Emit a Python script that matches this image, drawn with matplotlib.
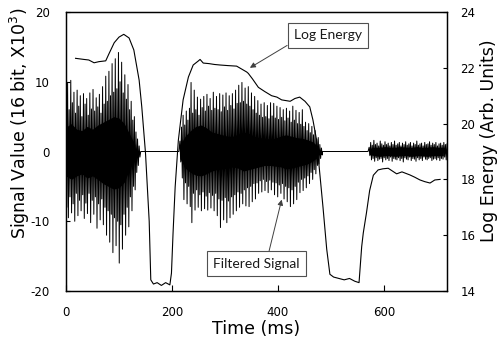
import numpy as np
import matplotlib
matplotlib.use("Agg")
import matplotlib.pyplot as plt

plt.rcParams['axes.unicode_minus'] = False

# signal peaks (X10^3), sampled every 3 ms: positive peak then negative peak
seg1_start = 0
seg1_hi = [7.5, 9.8, 6.0, 10.2, 7.0, 8.5, 5.5, 8.8, 6.5, 8.0,
           5.0, 8.3, 6.8, 7.6, 5.2, 8.4, 6.1, 8.9, 5.8, 7.7,
           6.4, 8.2, 5.5, 9.3, 6.8, 10.8, 7.2, 11.5, 8.0, 12.6,
           8.5, 13.3, 9.0, 14.2, 10.0, 12.8, 8.4, 11.0, 7.5, 9.6,
           6.0, 7.2, 4.5, 5.0, 2.8, 1.8, 0.8]
seg1_lo = [-8.0, -9.5, -6.5, -8.8, -7.5, -10.0, -6.0, -9.2, -7.0, -8.5,
           -6.2, -9.6, -7.4, -8.9, -6.0, -10.2, -7.0, -9.0, -6.5, -11.0,
           -7.5, -9.8, -6.8, -10.5, -8.0, -12.0, -8.5, -13.0, -9.0, -14.5,
           -9.5, -13.5, -10.0, -16.0, -10.5, -14.0, -9.0, -12.0, -8.0, -10.8,
           -6.5, -8.5, -5.0, -5.5, -3.0, -2.0, -0.8]

seg2_start = 215
seg2_hi = [1.5, 3.5, 5.2, 3.8, 5.8, 4.5, 6.2, 9.9, 5.5, 8.8,
           6.0, 7.8, 5.2, 7.5, 6.3, 7.9, 5.8, 8.2, 6.5, 7.6,
           5.9, 8.5, 6.2, 7.9, 6.0, 8.3, 5.7, 8.1, 6.4, 8.4,
           5.9, 8.0, 6.6, 8.3, 6.1, 8.8, 6.9, 9.5, 7.0, 9.9,
           7.2, 9.1, 6.8, 9.3, 6.5, 8.4, 6.0, 7.9, 5.5, 7.3,
           5.2, 6.8, 4.9, 7.0, 5.0, 6.6, 4.7, 7.0, 5.1, 6.9,
           4.8, 6.5, 4.6, 6.3, 4.9, 6.0, 4.4, 6.2, 4.8, 5.8,
           4.2, 6.5, 4.5, 5.9, 4.0, 5.6, 3.9, 6.0, 3.6, 4.2,
           3.0, 4.0, 2.7, 3.6, 2.4, 3.0, 1.8, 2.0, 1.0, 0.5]
seg2_lo = [-1.5, -3.8, -6.9, -4.5, -7.5, -5.0, -7.9, -10.2, -6.0, -8.4,
           -5.5, -8.0, -6.2, -8.5, -5.8, -8.2, -6.4, -8.4, -5.9, -8.1,
           -6.3, -8.5, -6.0, -9.2, -6.8, -10.9, -7.0, -9.8, -6.6, -10.2,
           -7.1, -9.5, -6.5, -9.0, -6.2, -8.5, -5.8, -8.0, -6.0, -7.5,
           -5.5, -7.8, -5.2, -7.9, -5.0, -7.2, -4.6, -6.8, -4.5, -6.0,
           -4.2, -5.8, -4.0, -5.6, -4.3, -5.9, -4.1, -5.5, -4.4, -6.2,
           -4.5, -6.5, -4.8, -6.0, -4.6, -6.8, -5.0, -7.2, -5.2, -7.9,
           -5.5, -7.5, -5.0, -6.9, -4.4, -5.9, -4.0, -5.6, -3.8, -5.2,
           -3.5, -4.6, -3.0, -4.0, -2.6, -3.2, -2.0, -1.8, -1.0, -0.5]

seg3_start = 572
seg3_hi = [0.6, 1.3, 0.9, 1.6, 1.0, 1.2, 0.8, 1.5, 1.1, 0.9,
           1.4, 1.0, 1.2, 0.8, 1.3, 1.0, 1.5, 0.9, 1.1, 1.3,
           0.8, 1.2, 1.0, 1.4, 0.9, 1.1, 1.3, 0.8, 1.2, 1.0,
           1.5, 0.9, 1.1, 1.2, 0.8, 1.3, 1.0, 1.1, 1.4, 0.9,
           1.2, 1.0, 1.3, 0.8, 1.1, 1.2, 0.9, 1.3, 1.0, 1.1]
seg3_lo = [-0.6, -1.2, -1.0, -1.4, -0.9, -1.3, -1.1, -1.0, -1.5, -0.9,
           -1.2, -1.0, -1.3, -0.8, -1.4, -1.0, -1.1, -1.2, -0.9, -1.3,
           -1.0, -1.5, -0.9, -1.1, -1.2, -0.8, -1.3, -1.0, -1.1, -1.4,
           -0.9, -1.2, -1.0, -1.3, -0.8, -1.1, -1.2, -1.0, -0.9, -1.3,
           -1.1, -1.0, -1.2, -0.9, -1.3, -1.0, -1.1, -0.8, -1.2, -1.0]

# dense dark core of the waveform, every 10 ms
core1_start = 0
core1_hi = [3.5, 4.0, 3.2, 3.0, 3.6, 3.2, 3.8, 4.2, 4.6, 5.0, 4.8, 4.0, 2.5, 1.0]
core1_lo = [-3.5, -4.0, -3.5, -3.2, -3.8, -3.5, -4.0, -4.6, -5.0, -5.4, -5.2, -4.4, -2.5, -1.0]
core2_start = 215
core2_hi = [1.0, 2.2, 3.0, 3.6, 3.8, 3.4, 2.8, 2.6, 2.4, 2.2,
            2.2, 2.5, 2.8, 2.6, 2.2, 2.0, 1.9, 1.8, 1.9, 2.2,
            2.4, 2.2, 2.0, 1.9, 1.7, 1.4, 0.8]
core2_lo = [-1.0, -2.4, -3.0, -3.4, -3.5, -3.2, -2.8, -2.6, -2.5, -2.4,
            -2.2, -2.4, -2.8, -2.6, -2.4, -2.2, -2.0, -2.0, -2.1, -2.2,
            -2.5, -2.4, -2.2, -2.0, -1.8, -1.4, -0.8]
core3_start = 572
core3_hi = [0.4, 0.6, 0.6, 0.7, 0.6, 0.6, 0.7, 0.6, 0.6, 0.7, 0.6, 0.6, 0.7, 0.6, 0.6]
core3_lo = [-0.4, -0.6, -0.7, -0.6, -0.6, -0.7, -0.6, -0.6, -0.7, -0.6, -0.6, -0.7, -0.6, -0.6, -0.6]

# silent stretches (signal = 0)
quiet_ms = [(141, 213), (484, 570)]

# log energy (arb. units)
le_ms = [18, 34, 43, 53, 62, 75, 81, 91, 100, 109,
         119, 128, 138, 143, 150, 157, 160, 165, 172, 180,
         188, 196, 199, 202, 206, 212, 221, 231, 240, 250,
         253, 259, 270, 280, 291, 305, 322, 341, 344, 352,
         363, 375, 388, 398, 407, 423, 432, 441, 451, 460,
         466, 473, 479, 485, 492, 498, 505, 515, 525, 535,
         545, 553, 558, 561, 567, 573, 580, 589, 598, 608,
         616, 624, 634, 649, 658, 668, 677, 687, 696, 706]
le_val = [22.34, 22.3, 22.28, 22.18, 22.22, 22.25, 22.5, 22.9, 23.1, 23.2,
          23.07, 22.64, 21.56, 20.6, 18.95, 16.5, 14.4, 14.25, 14.3, 14.2,
          14.3, 14.22, 14.64, 16.07, 17.73, 19.4, 20.85, 21.67, 22.1, 22.25,
          22.3, 22.17, 22.15, 22.12, 22.1, 22.08, 22.06, 21.85, 21.8, 21.6,
          21.3, 21.15, 21.0, 20.95, 20.85, 20.8, 20.9, 20.95, 20.8, 20.6,
          20.13, 19.4, 18.2, 17.0, 15.5, 14.6, 14.5, 14.45, 14.4, 14.45,
          14.35, 14.3, 15.59, 16.08, 16.8, 17.6, 18.15, 18.34, 18.38, 18.4,
          18.3, 18.2, 18.27, 18.16, 18.08, 17.98, 17.92, 17.87, 17.98, 18.0]

x_ticks = [0, 200, 400, 600]
left_ticks = [-20, -10, 0, 10, 20]
right_ticks = [14, 16, 18, 20, 22, 24]

step = 3.0
core_step = 10.0


def zigzag(start, hi, lo):
    t = start + step * np.arange(len(hi))
    tt = np.empty(2 * len(hi))
    vv = np.empty(2 * len(hi))
    tt[0::2] = t
    tt[1::2] = t + step / 2
    vv[0::2] = hi
    vv[1::2] = lo
    return tt, vv


t1, v1 = zigzag(seg1_start, seg1_hi, seg1_lo)
t2, v2 = zigzag(seg2_start, seg2_hi, seg2_lo)
t3, v3 = zigzag(seg3_start, seg3_hi, seg3_lo)
sig_t = np.concatenate([t1, quiet_ms[0], t2, quiet_ms[1], t3])
sig_v = np.concatenate([v1, [0, 0], v2, [0, 0], v3])

fig = plt.figure(figsize=(4.97, 3.45), dpi=100)
ax = fig.add_axes([0.1328, 0.1565, 0.7666, 0.8087])
ax2 = ax.twinx()

for start, hi, lo in [(core1_start, core1_hi, core1_lo),
                      (core2_start, core2_hi, core2_lo),
                      (core3_start, core3_hi, core3_lo)]:
    tc = start + core_step * np.arange(len(hi))
    ax.fill_between(tc, lo, hi, color='black', lw=0)
ax.plot(sig_t, sig_v, color='black', lw=0.72)
ax2.plot(le_ms, le_val, color='black', lw=0.8)

ax.set_xlim(0, 719)
ax.set_ylim(-20, 20)
ax2.set_ylim(14, 24)
ax.set_xticks(x_ticks)
ax.set_yticks(left_ticks)
ax2.set_yticks(right_ticks)

ax.tick_params(axis='x', direction='in', length=4, width=0.8, pad=11,
               labelsize=8.5, colors='black')
ax.tick_params(axis='y', direction='in', length=3, width=0.8, pad=11.5,
               labelsize=8.5)
ax2.tick_params(axis='y', direction='in', length=3, width=0.8, pad=9.5,
                labelsize=8.5)
for a in (ax, ax2):
    for s in a.spines.values():
        s.set_linewidth(0.9)
        s.set_color('black')

ax.set_xlabel('Time (ms)', fontsize=12.5)
ax.xaxis.set_label_coords(0.5, -0.105)
ax.set_ylabel('Signal Value (16 bit, X10$^3$)', fontsize=12.5)
ax.yaxis.set_label_coords(-0.088, 0.60)
ax2.set_ylabel('Log Energy (Arb. Units)', fontsize=12.5)
ax2.yaxis.set_label_coords(1.086, 0.54)

box = dict(boxstyle='square,pad=0.45', fc='white', ec='#505050', lw=0.8)
ax2.annotate('Log Energy', xy=(347, 22.0), xytext=(494, 23.16),
             ha='center', va='center', fontsize=10, family='Lato',
             color='#1a1a1a', bbox=box,
             arrowprops=dict(arrowstyle='-|>', color='#404040', lw=0.7,
                             mutation_scale=8, relpos=(0, 0),
                             shrinkA=0, shrinkB=0))
ax.annotate('Filtered Signal', xy=(407, -6.9), xytext=(359, -16.06),
            ha='center', va='center', fontsize=10, family='Lato',
            color='#1a1a1a', bbox=box,
            arrowprops=dict(arrowstyle='-|>', color='#404040', lw=0.7,
                            mutation_scale=8, relpos=(0.63, 1),
                            shrinkA=0, shrinkB=0))

fig.savefig('out.png', dpi=100)
